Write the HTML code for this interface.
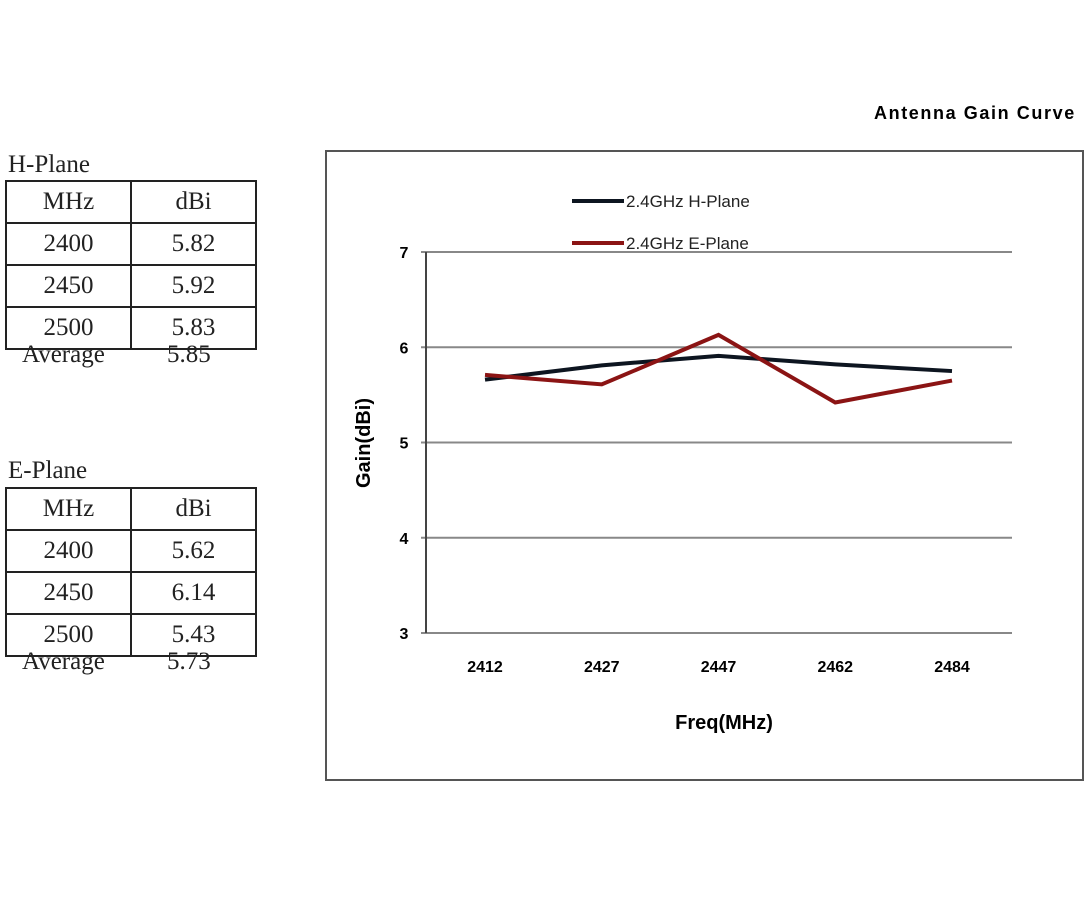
<!DOCTYPE html>
<html><head><meta charset="utf-8"><style>
body{margin:0;background:#fff;width:1090px;height:900px;position:relative;overflow:hidden}
.t{position:absolute;font-family:"Liberation Serif",serif;font-size:25px;color:#222}
table{position:absolute;border-collapse:collapse;font-family:"Liberation Serif",serif;font-size:25px;color:#222}
td{border:2px solid #222;width:123px;height:36px;text-align:center;padding:0;line-height:40px}
</style></head><body>
<div class="t" style="left:874px;top:103px;font-family:'Liberation Sans',sans-serif;font-weight:bold;font-size:18px;letter-spacing:1.6px;color:#000">Antenna Gain Curve</div>
<div class="t" style="left:8px;top:151px">H-Plane</div>
<table style="left:5px;top:180px">
<tr><td>MHz</td><td>dBi</td></tr><tr><td>2400</td><td>5.82</td></tr><tr><td>2450</td><td>5.92</td></tr><tr><td>2500</td><td>5.83</td></tr>
</table>
<div class="t" style="left:22px;top:341px">Average</div>
<div class="t" style="left:167px;top:341px">5.85</div>
<div class="t" style="left:8px;top:457px">E-Plane</div>
<table style="left:5px;top:487px">
<tr><td>MHz</td><td>dBi</td></tr><tr><td>2400</td><td>5.62</td></tr><tr><td>2450</td><td>6.14</td></tr><tr><td>2500</td><td>5.43</td></tr>
</table>
<div class="t" style="left:22px;top:648px">Average</div>
<div class="t" style="left:167px;top:648px">5.73</div>
<svg id="chart" width="1090" height="900" style="position:absolute;left:0;top:0" font-family="Liberation Sans, sans-serif"></svg>
<script>
const categories=["2412","2427","2447","2462","2484"];
const hPlane=[5.66,5.81,5.91,5.82,5.75];
const ePlane=[5.71,5.61,6.13,5.42,5.65];
const yTicks=[3,4,5,6,7];
const svg=document.getElementById('chart');const NS='http://www.w3.org/2000/svg';
function mk(t,a,p){const e=document.createElementNS(NS,t);for(const k in a)e.setAttribute(k,a[k]);(p||svg).appendChild(e);return e;}
const x0=426,x1=1012,y0=633,y1=252;
const xs=i=>485+i*(952-485)/(categories.length-1);
const ys=v=>y0-(v-3)/(7-3)*(y0-y1);
let f=mk('rect',{x:326,y:151,width:757,height:629,fill:'none',stroke:'#555','stroke-width':2});

yTicks.forEach(v=>{
 let g=mk('line',{x1:x0-5,x2:x1,y1:ys(v),y2:ys(v),stroke:'#888','stroke-width':2});
 
 let t=mk('text',{x:404,y:ys(v)+6,'font-size':16,'font-weight':'bold','text-anchor':'middle'});t.textContent=v;
 
});
let ax=mk('line',{x1:x0,x2:x0,y1:y1,y2:y0,stroke:'#444','stroke-width':2});

categories.forEach((c,i)=>{let t=mk('text',{x:xs(i),y:672,'font-size':16,'font-weight':'bold','text-anchor':'middle'});t.textContent=c;
 });
let xt=mk('text',{x:724,y:729,'font-size':20,'font-weight':'bold','text-anchor':'middle'});xt.textContent='Freq(MHz)';

let yt=mk('text',{x:0,y:0,'font-size':20,'font-weight':'bold','text-anchor':'middle',transform:'translate(370,443) rotate(-90)'});yt.textContent='Gain(dBi)';

function line(d,col,name){let p=mk('polyline',{points:d.map((v,i)=>xs(i)+','+ys(v)).join(' '),fill:'none',stroke:col,'stroke-width':4,'stroke-linejoin':'miter'});
 }
line(hPlane,'#0d1520','h-plane-line');line(ePlane,'#8b1414','e-plane-line');
[['2.4GHz H-Plane','#0d1520',201],['2.4GHz E-Plane','#8b1414',243]].forEach((l,i)=>{
 let g=mk('g',{});
 mk('line',{x1:572,x2:624,y1:l[2],y2:l[2],stroke:l[1],'stroke-width':4},g);
 let t=mk('text',{x:626,y:l[2]+6,'font-size':17,fill:'#222'},g);t.textContent=l[0];
});
</script>
</body></html>
